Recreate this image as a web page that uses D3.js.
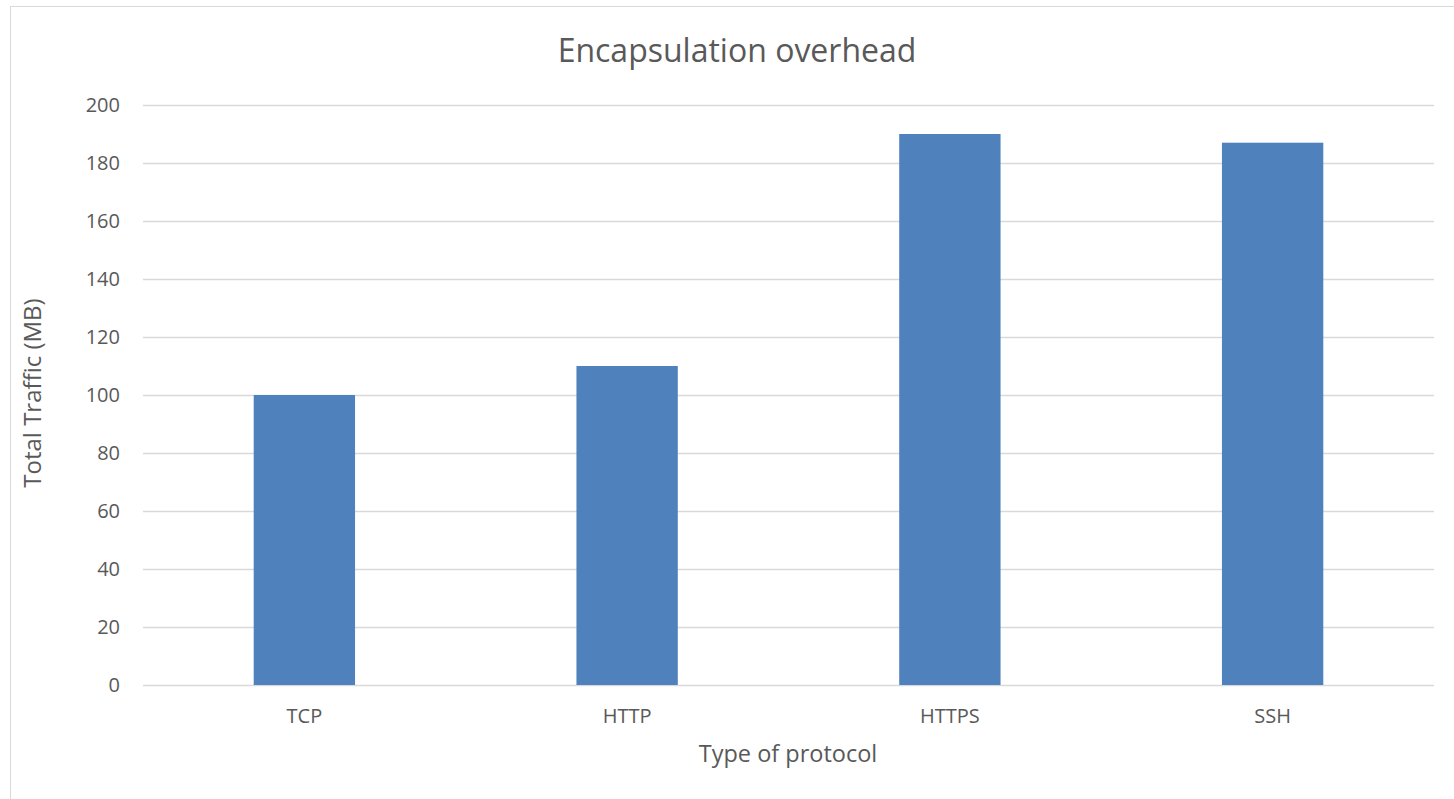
<!DOCTYPE html>
<html>
<head>
<meta charset="utf-8">
<script src="https://cdn.jsdelivr.net/npm/d3@7"></script>
<style>
  html, body { margin: 0; padding: 0; background: #fff; }
  svg { display: block; }
  text { font-family: "Open Sans", "Noto Sans", sans-serif; fill: #595959; }
</style>
</head>
<body>
<svg id="chart" width="1454" height="799"></svg>
<script>
// Chart data
const protocols = ["TCP", "HTTP", "HTTPS", "SSH"];
const traffic = [100, 110, 190, 187];
const yTicks = [0, 20, 40, 60, 80, 100, 120, 140, 160, 180, 200];

const chartTitle = "Encapsulation overhead";
const xTitle = "Type of protocol";
const yTitle = "Total Traffic (MB)";

const svg = d3.select("#chart");
const W = 1454, H = 799;
const margin = { left: 143, right: 20, top: 105, bottom: 114 };
const plotW = W - margin.left - margin.right;
const plotH = H - margin.top - margin.bottom;

// Outer chart frame
svg.append("rect")
  .attr("x", 10.5).attr("y", 6.5)
  .attr("width", W).attr("height", H)
  .attr("fill", "#fff")
  .attr("stroke", "#d9d9d9").attr("stroke-width", 1);

const g = svg.append("g").attr("transform", `translate(${margin.left},${margin.top})`);

const x = d3.scaleBand()
  .domain(protocols)
  .range([0, plotW])
  .paddingInner(0.686)
  .paddingOuter(0.343);

const y = d3.scaleLinear().domain([0, 200]).range([plotH, 0]);

// Horizontal gridlines
g.append("g")
  .selectAll("line")
  .data(yTicks)
  .join("line")
  .attr("x1", 0).attr("x2", plotW)
  .attr("y1", d => Math.round(y(d)) + 0.5)
  .attr("y2", d => Math.round(y(d)) + 0.5)
  .attr("stroke", "#d9d9d9").attr("stroke-width", 1.3);

// Y axis labels
const yAxis = d3.axisLeft(y).tickValues(yTicks).tickSize(0).tickPadding(23);
g.append("g").call(yAxis)
  .call(s => s.select(".domain").remove())
  .selectAll("text")
  .attr("font-size", 20)
  .style("font-family", '"Open Sans", sans-serif')
  .attr("fill", "#595959");

// Bars
g.append("g")
  .selectAll("rect")
  .data(protocols.map((p, i) => ({ p, v: traffic[i] })))
  .join("rect")
  .attr("x", d => x(d.p))
  .attr("y", d => y(d.v))
  .attr("width", x.bandwidth())
  .attr("height", d => plotH - y(d.v))
  .attr("fill", "#4f81bd");

// X axis labels
const xAxis = d3.axisBottom(x).tickSize(0).tickPadding(24);
g.append("g").attr("transform", `translate(0,${plotH})`).call(xAxis)
  .call(s => s.select(".domain").remove())
  .selectAll("text")
  .attr("font-size", 20)
  .style("font-family", '"Open Sans", sans-serif')
  .attr("fill", "#595959");

// Titles
svg.append("text")
  .attr("x", 737).attr("y", 62)
  .attr("text-anchor", "middle")
  .attr("font-size", 32)
  .text(chartTitle);

svg.append("text")
  .attr("x", 788).attr("y", 762)
  .attr("text-anchor", "middle")
  .attr("font-size", 23.5)
  .text(xTitle);

svg.append("text")
  .attr("transform", "translate(41,393) rotate(-90)")
  .attr("text-anchor", "middle")
  .attr("font-size", 24)
  .text(yTitle);
</script>
</body>
</html>
